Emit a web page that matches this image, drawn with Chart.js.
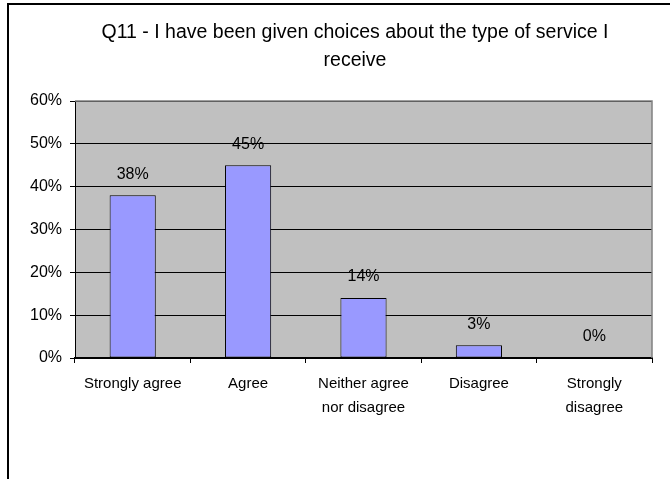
<!DOCTYPE html>
<html>
<head>
<meta charset="utf-8">
<script src="https://cdn.jsdelivr.net/npm/chart.js@4/dist/chart.umd.min.js"></script>
<style>
  html, body { margin: 0; padding: 0; background: #fff; }
  #wrap { position: relative; width: 670px; height: 479px; }
</style>
</head>
<body>
<div id="wrap"><canvas id="chart" width="670" height="479"></canvas></div>
<script>
  // Survey question and response breakdown
  const titleLines = ['Q11 - I have been given choices about the type of service I', 'receive'];
  const categories = ['Strongly agree', 'Agree', ['Neither agree', 'nor disagree'], 'Disagree', ['Strongly', 'disagree']];
  const percentages = [38, 45, 14, 3, 0];
  const yTicks = [0, 10, 20, 30, 40, 50, 60];

  const FONT = '"Liberation Sans", Arial, sans-serif';

  // Frame, grey plot background and the two-line title
  const backdrop = {
    id: 'backdrop',
    beforeDraw(chart) {
      const ctx = chart.ctx;
      const area = chart.chartArea;
      ctx.save();
      ctx.fillStyle = '#ffffff';
      ctx.fillRect(0, 0, chart.width, chart.height);

      ctx.strokeStyle = '#000000';
      ctx.lineWidth = 2;
      ctx.beginPath();
      ctx.moveTo(8, chart.height);
      ctx.lineTo(8, 4);
      ctx.lineTo(chart.width, 4);
      ctx.stroke();

      ctx.fillStyle = '#c0c0c0';
      ctx.fillRect(area.left, area.top, area.right - area.left, area.bottom - area.top);

      ctx.fillStyle = '#000000';
      ctx.font = '19.5px ' + FONT;
      ctx.textAlign = 'center';
      ctx.textBaseline = 'middle';
      ctx.fillText(titleLines[0], 355, 33);
      ctx.fillText(titleLines[1], 355, 61);
      ctx.restore();
    },
    beforeDatasetsDraw(chart) {
      // grey outline on the top and right edges of the plot
      const ctx = chart.ctx;
      const a = chart.chartArea;
      ctx.save();
      ctx.strokeStyle = '#808080';
      ctx.lineWidth = 1.5;
      ctx.beginPath();
      ctx.moveTo(a.left, a.top);
      ctx.lineTo(a.right, a.top);
      ctx.lineTo(a.right, a.bottom);
      ctx.stroke();
      ctx.restore();
    }
  };

  // Percentage labels above each bar
  const valueLabels = {
    id: 'valueLabels',
    afterDatasetsDraw(chart) {
      const ctx = chart.ctx;
      const meta = chart.getDatasetMeta(0);
      ctx.save();
      ctx.fillStyle = '#000000';
      ctx.font = '16px ' + FONT;
      ctx.textAlign = 'center';
      ctx.textBaseline = 'middle';
      meta.data.forEach((bar, i) => {
        ctx.fillText(percentages[i] + '%', bar.x, bar.y - 21);
      });
      ctx.restore();
    }
  };

  new Chart(document.getElementById('chart'), {
    type: 'bar',
    data: {
      labels: categories,
      datasets: [{
        data: percentages,
        backgroundColor: '#9999ff',
        borderColor: '#000000',
        borderWidth: 1,
        borderSkipped: false,
        barPercentage: 0.4,
        categoryPercentage: 1.0
      }]
    },
    options: {
      responsive: false,
      animation: false,
      layout: { padding: { left: 0, top: 101, right: 18, bottom: 0 } },
      plugins: {
        legend: { display: false },
        tooltip: { enabled: false },
        title: { display: false }
      },
      scales: {
        x: {
          afterFit(scale) { scale.height = 121; },
          grid: {
            offset: true,
            drawOnChartArea: false,
            tickLength: 5,
            color: '#000000'
          },
          border: { color: '#000000', width: 2 },
          ticks: {
            color: '#000000',
            padding: 8,
            maxRotation: 0,
            font: { family: FONT, size: 15, lineHeight: 1.65 }
          }
        },
        y: {
          min: 0,
          max: 60,
          afterFit(scale) { scale.width = 75; },
          afterBuildTicks(scale) {
            scale.ticks = yTicks.map(v => ({ value: v }));
          },
          grid: {
            color: '#000000',
            lineWidth: 1,
            tickLength: 5
          },
          border: { color: '#000000', width: 1 },
          ticks: {
            color: '#000000',
            padding: 8,
            font: { family: FONT, size: 16 },
            callback: v => v + '%'
          }
        }
      }
    },
    plugins: [backdrop, valueLabels]
  });
</script>
</body>
</html>
